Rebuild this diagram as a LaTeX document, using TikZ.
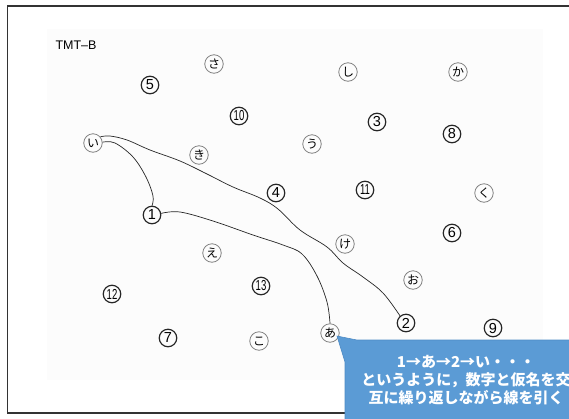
\documentclass[tikz,border=0pt]{standalone}
\usepackage{fontspec}
\usepackage{graphicx}
\setmainfont{Liberation Sans}
\newfontfamily\jp{Noto Sans CJK JP}
\definecolor{callblue}{HTML}{5B9BD5}
\definecolor{callborder}{HTML}{4F8BC4}
\tikzset{
  numc/.style={circle, draw=black!85, line width=1.2pt, minimum size=17.5pt, inner sep=0pt,
    font=\fontsize{14.5}{14.5}\selectfont},
  kanac/.style={circle, draw=black!50, line width=0.8pt, minimum size=18.5pt, inner sep=0pt,
    font=\jp\fontsize{12}{12}\selectfont},
  trail/.style={black!85, line width=0.7pt},
  calltext/.style={text=white, font=\jp\bfseries\fontsize{15}{15}\selectfont, inner sep=0pt}
}
\newcommand{\nn}[1]{\scalebox{0.66}[1]{#1}}
\begin{document}
\begin{tikzpicture}[x=1pt,y=-1pt]
\useasboundingbox (0,0) rectangle (569,418);
\fill[white] (0,0) rectangle (569,418);
\fill[black!1] (47,29) rectangle (543,380);
\draw[line width=1.3pt, black!80] (7.5,6) rectangle (620,413);
\node[anchor=west, font=\fontsize{12.5}{12.5}\selectfont] (title) at (52,45) {TMT–B};
% numbers
\node[numc] (n1) at (152,215) {1};
\node[numc] (n2) at (406,323) {2};
\node[numc] (n3) at (377,122) {3};
\node[numc] (n4) at (276,193) {4};
\node[numc] (n5) at (150,85) {5};
\node[numc] (n6) at (452,233) {6};
\node[numc] (n7) at (168,338) {7};
\node[numc] (n8) at (452,134) {8};
\node[numc] (n9) at (493,328) {9};
\node[numc] (n10) at (239,116) {\nn{10}};
\node[numc] (n11) at (365,190) {\nn{11}};
\node[numc] (n12) at (112,294) {\nn{12}};
\node[numc] (n13) at (261,286) {\nn{13}};
% kana
\node[kanac] (ka) at (330,333) {あ};
\node[kanac] (ki) at (93,143) {い};
\node[kanac] (ku) at (312,144) {う};
\node[kanac] (ke) at (212,253) {え};
\node[kanac] (ko) at (413,280) {お};
\node[kanac] (kka) at (458,72) {か};
\node[kanac] (kki) at (199,155) {き};
\node[kanac] (kku) at (484,193) {く};
\node[kanac] (kke) at (345,244) {け};
\node[kanac] (kko) at (259,341) {こ};
\node[kanac] (ksa) at (214,64) {さ};
\node[kanac] (kshi) at (348,72) {し};
% trails
\draw[trail] plot[smooth, tension=0.6] coordinates {(n1.10) (180,212) (213,221) (253,235) (283,245) (302,254) (317,276) (327,302) (ka.north)};
\draw[trail] plot[smooth, tension=0.6] coordinates {(ki.5) (115,143) (133,157) (146,177) (153,196) (n1.north)};
\draw[trail] plot[smooth, tension=0.6] coordinates {(ki.40) (110,136) (127,140) (150,150) (180,161) (207,174) (233,187) (260,198) (278,209) (300,230) (327,247) (343,263) (363,277) (383,293) (n2.130)};
% callout
\coordinate (tip) at (337,336);
\draw[fill=callblue, draw=callborder, line width=0.6pt]
  (tip) -- (357,340) -- (610,340) -- (610,440) -- (345,440) -- (345,362) -- cycle;
\node[calltext] (c1) at (466,362) {1→あ→2→い・・・};
\node[calltext] (c2) at (466,380.5) {というように，数字と仮名を交};
\node[calltext] (c3) at (466,398) {互に繰り返しながら線を引く};
\end{tikzpicture}
\end{document}
